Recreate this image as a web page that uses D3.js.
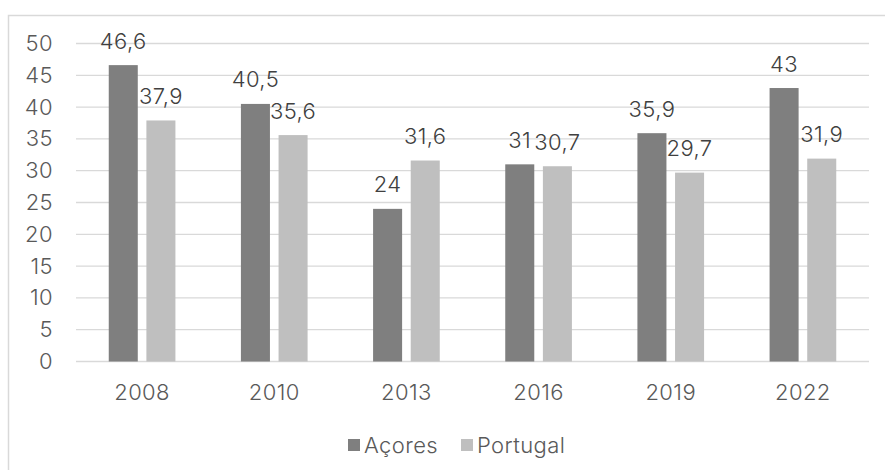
<!DOCTYPE html>
<html><head><meta charset="utf-8">
<script src="https://cdn.jsdelivr.net/npm/d3@7"></script>
<style>body{margin:0;background:#fff}svg text{font-family:Inter,"Open Sans",sans-serif;font-weight:300;letter-spacing:0.4px}</style>
</head><body><svg id="c" width="885" height="470"></svg>
<script>
const categories = ["2008","2010","2013","2016","2019","2022"];
const seriesNames = ["Açores","Portugal"];
const acores = [46.6, 40.5, 24, 31, 35.9, 43];
const portugal = [37.9, 35.6, 31.6, 30.7, 29.7, 31.9];
const yTicks = [0,5,10,15,20,25,30,35,40,45,50];
const colors = ["#7f7f7f","#bfbfbf"];
const fmt = v => String(v).replace(".", ",");

(function(){
const FS = 22;
const svg = d3.select("#c");
svg.append("rect").attr("x",8.5).attr("y",15.5).attr("width",900).attr("height",500)
  .attr("fill","#fff").attr("stroke","#d9d9d9").attr("stroke-width",1.5);

const pLeft = 76, pRight = 869, pTop = 43.5, pBottom = 361.5;
const x = d3.scaleBand().domain(categories).range([pLeft,pRight]).paddingInner(0).paddingOuter(0);
const y = d3.scaleLinear().domain([0,50]).range([pBottom, pTop]);
const inner = d3.scaleBand().domain(seriesNames).range([0, x.bandwidth()]).paddingInner(0.229).paddingOuter(0.87);

svg.append("g").selectAll("line").data(yTicks).join("line")
  .attr("x1",pLeft).attr("x2",pRight).attr("y1",d=>y(d)).attr("y2",d=>y(d))
  .attr("stroke","#d9d9d9").attr("stroke-width",1.3);

const yAxis = d3.axisLeft(y).tickValues(yTicks).tickSize(0).tickPadding(0);
const ga = svg.append("g").attr("transform",`translate(53,0)`).call(yAxis);
ga.select(".domain").remove();
ga.selectAll("text").attr("font-size",FS).attr("fill","#595959").attr("font-family",null);

const xAxis = d3.axisBottom(x).tickSize(0).tickPadding(0);
const gx = svg.append("g").attr("transform",`translate(0,${pBottom+23})`).call(xAxis);
gx.select(".domain").remove();
gx.selectAll("text").attr("font-size",FS).attr("fill","#595959").attr("font-family",null);

const series = [acores, portugal];
series.forEach((vals, si) => {
  const g = svg.append("g");
  g.selectAll("rect").data(vals).join("rect")
    .attr("x",(d,i)=>x(categories[i]) + inner(seriesNames[si]))
    .attr("y",d=>y(d)).attr("width",inner.bandwidth()).attr("height",d=>pBottom-y(d))
    .attr("fill",colors[si]);
  g.selectAll("text").data(vals).join("text")
    .attr("x",(d,i)=>x(categories[i]) + inner(seriesNames[si]) + inner.bandwidth()/2)
    .attr("y",d=>y(d)-16.5).attr("text-anchor","middle")
    .attr("font-size",FS).attr("fill","#404040").text(d=>fmt(d));
});

const lg = svg.append("g");
const legX = [348, 461];
seriesNames.forEach((n,i)=>{
  lg.append("rect").attr("x",legX[i]).attr("y",439).attr("width",12).attr("height",12).attr("fill",colors[i]);
  lg.append("text").attr("x",legX[i]+16).attr("y",452.5).attr("font-size",FS).attr("fill","#595959").text(n);
});
})();
</script></body></html>
